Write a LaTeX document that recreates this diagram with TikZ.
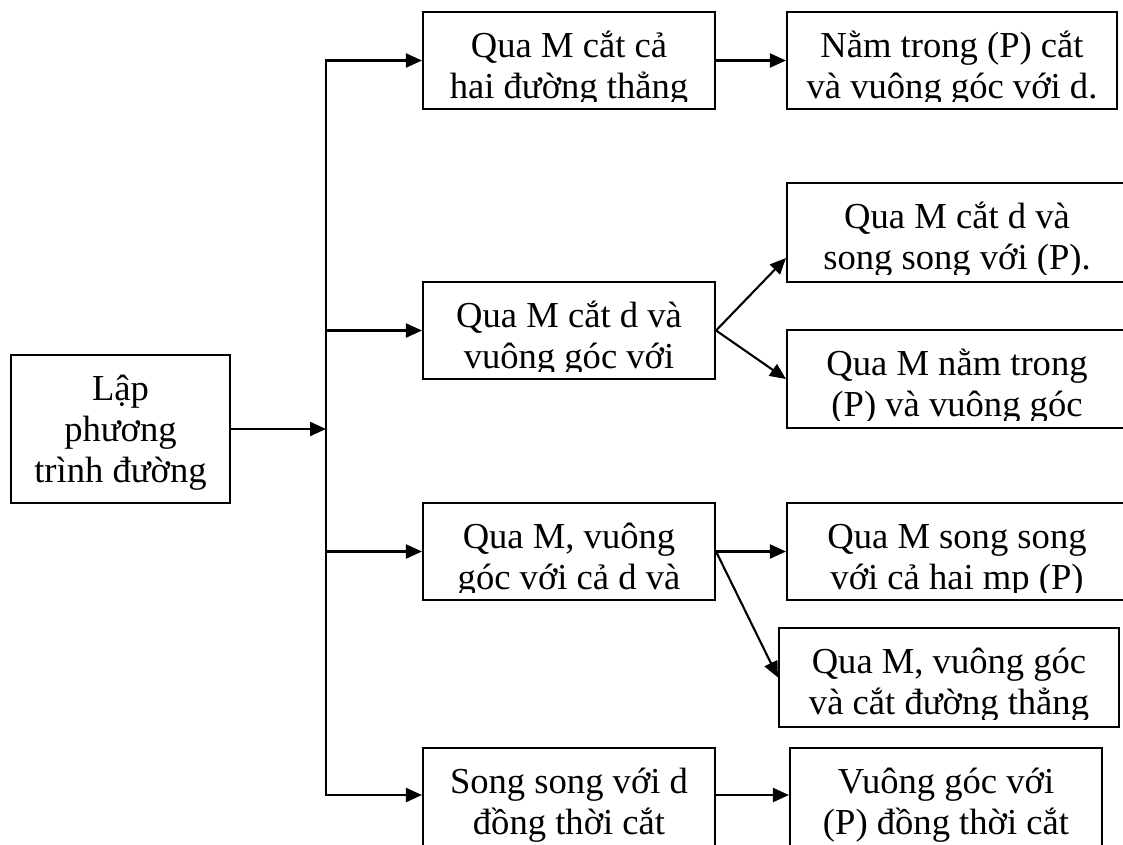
\documentclass[tikz,border=0pt]{standalone}
\usepackage{fontspec}
\setmainfont{Liberation Serif}
\usetikzlibrary{arrows.meta}
\newcommand{\bxfont}{\fontsize{36.6}{41}\selectfont\lineskiplimit=-100pt\relax}
\tikzset{
  box/.style={draw, line width=2.1pt, inner sep=0pt, minimum width=#1},
  boxtext/.style={anchor=north, inner sep=0pt, align=center, font=\bxfont},
  arr/.style={line width=2.1pt, -{Triangle[length=16pt,width=14pt]}},
  trunk/.style={line width=2.1pt, line cap=rect}
}
\newcommand{\bxlabel}[3]{%
  \begin{scope}
    \clip (#1.north west) rectangle ([yshift=9pt]#1.south east);
    \node[boxtext] (#2) at ([yshift=-10pt]#1.north) {\rule{0pt}{36pt}#3};
  \end{scope}}
\begin{document}
\begin{tikzpicture}[x=1pt,y=-1pt]
\path[use as bounding box] (0,0) rectangle (1123,844);
\clip (0,0) rectangle (1123,844);

% boxes
\node[box=219pt, minimum height=148pt] (A)  at (120.5,429) {};
\node[box=292pt, minimum height=97pt]  (B1) at (569,60.5) {};
\node[box=330pt, minimum height=97pt]  (B2) at (952,60.5) {};
\node[box=292pt, minimum height=97pt]  (C1) at (569,330.5) {};
\node[box=340pt, minimum height=99pt]  (C2) at (957,232.5) {};
\node[box=340pt, minimum height=98pt]  (C3) at (957,379) {};
\node[box=292pt, minimum height=97pt]  (D1) at (569,551.5) {};
\node[box=340pt, minimum height=97pt]  (D2) at (957,551.5) {};
\node[box=340pt, minimum height=99pt]  (D3) at (949,677.5) {};
\node[box=292pt, minimum height=102pt] (E1) at (569,799) {};
\node[box=312pt, minimum height=102pt] (E2) at (946,799) {};

% texts
\bxlabel{A}{tA}{Lập\\phương\\trình đường}
\bxlabel{B1}{tB1}{Qua M cắt cả\\hai đường thẳng}
\bxlabel{B2}{tB2}{Nằm trong (P) cắt\\và vuông góc với d.}
\bxlabel{C1}{tC1}{Qua M cắt d và\\vuông góc với}
\bxlabel{C2}{tC2}{Qua M cắt d và\\song song với (P).}
\bxlabel{C3}{tC3}{Qua M nằm trong\\(P) và vuông góc}
\bxlabel{D1}{tD1}{Qua M, vuông\\góc với cả d và}
\bxlabel{D2}{tD2}{Qua M song song\\với cả hai mp (P)}
\bxlabel{D3}{tD3}{Qua M, vuông góc\\và cắt đường thẳng}
\bxlabel{E1}{tE1}{Song song với d\\đồng thời cắt}
\bxlabel{E2}{tE2}{Vuông góc với\\(P) đồng thời cắt}

% trunk
\coordinate (jA) at (326,429);
\coordinate (jB) at (326,60.5);
\coordinate (jC) at (326,330.5);
\coordinate (jD) at (326,551.5);
\coordinate (jE) at (326,795);
\draw[trunk] (jB) -- (jE);
\draw[arr] (A.east) -- (jA);
\draw[arr] (jB) -- (B1.west);
\draw[arr] (jC) -- (C1.west);
\draw[arr] (jD) -- (D1.west);
\draw[arr] (jE) -- (E1.west |- jE);

% second level
\draw[arr] (B1.east) -- (B2.west);
\draw[arr] (C1.east) -- ([yshift=-25.5pt]C2.west);
\draw[arr] (C1.east) -- (C3.west);
\draw[arr] (D1.east) -- (D2.west);
\draw[arr] (D1.east) -- (D3.west);
\draw[arr] (E1.east |- jE) -- (E2.west |- jE);
\end{tikzpicture}
\end{document}
